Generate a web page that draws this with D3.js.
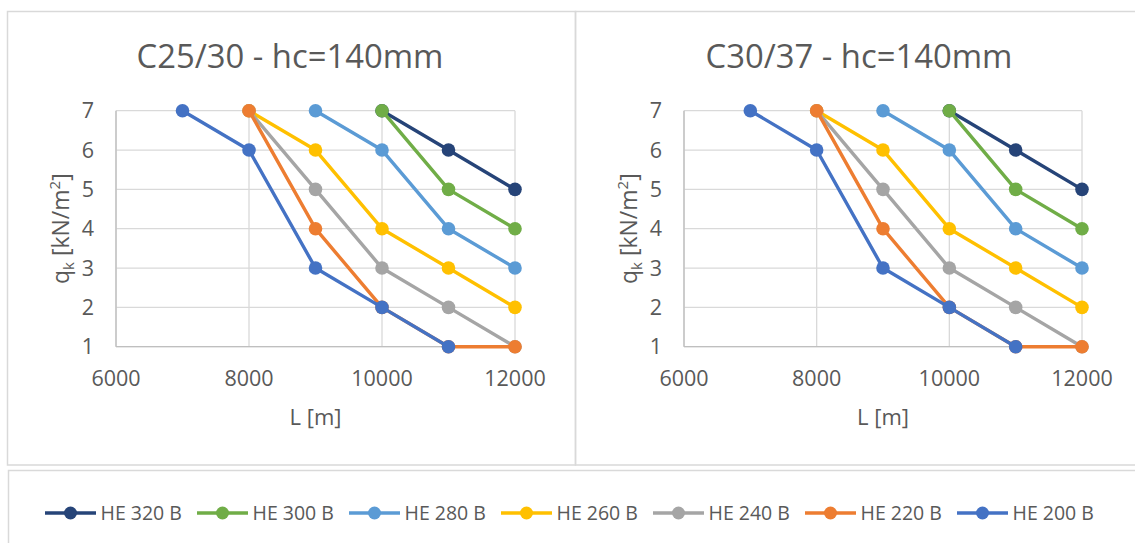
<!DOCTYPE html>
<html>
<head>
<meta charset="utf-8">
<script src="https://cdn.jsdelivr.net/npm/d3@7"></script>
<style>
    body { margin: 0; background: #fff; }
    svg { display: block; font-family: "Open Sans", "Liberation Sans", sans-serif; }
    .grid line { stroke: #d9d9d9; stroke-width: 1.3; }
    .txt { fill: #595959; }
</style>
</head>
<body>
<div class="graficos"></div>
<script>
// datos
const lengths = [7000, 8000, 9000, 10000, 11000, 12000];
const seriesNames = ['HE 320 B', 'HE 300 B', 'HE 280 B', 'HE 260 B', 'HE 240 B', 'HE 220 B', 'HE 200 B'];
const seriesColors = ['#264478', '#70ad47', '#5b9bd5', '#ffc000', '#a5a5a5', '#ed7d31', '#4472c4'];

// qk por longitud (null = sin punto)
const valuesC2530 = [
    [null, null, null, 7, 6, 5],   // HE 320 B
    [null, null, null, 7, 5, 4],   // HE 300 B
    [null, null, 7, 6, 4, 3],      // HE 280 B
    [null, 7, 6, 4, 3, 2],         // HE 260 B
    [null, 7, 5, 3, 2, 1],         // HE 240 B
    [null, 7, 4, 2, 1, 1],         // HE 220 B
    [7, 6, 3, 2, 1, null]          // HE 200 B
];
const valuesC3037 = [
    [null, null, null, 7, 6, 5],
    [null, null, null, 7, 5, 4],
    [null, null, 7, 6, 4, 3],
    [null, 7, 6, 4, 3, 2],
    [null, 7, 5, 3, 2, 1],
    [null, 7, 4, 2, 1, 1],
    [7, 6, 3, 2, 1, null]
];

const xTicks = [6000, 8000, 10000, 12000];
const yTicks = [1, 2, 3, 4, 5, 6, 7];

const ancho = 1135,
    alto = 543;

const svg = d3.select('.graficos').append('svg')
    .attr('width', ancho)
    .attr('height', alto);

svg.append('rect').attr('width', ancho).attr('height', alto).attr('fill', '#fff');

// marcos
const borde = '#d9d9d9';
svg.append('rect').attr('x', 7.5).attr('y', 11.5).attr('width', 568).attr('height', 453.5)
    .attr('fill', 'none').attr('stroke', borde).attr('stroke-width', 1.5);
svg.append('rect').attr('x', 575.5).attr('y', 11.5).attr('width', 600).attr('height', 453.5)
    .attr('fill', 'none').attr('stroke', borde).attr('stroke-width', 1.5);
svg.append('rect').attr('x', 8.5).attr('y', 470.5).attr('width', 1200).attr('height', 100)
    .attr('fill', 'none').attr('stroke', borde).attr('stroke-width', 1.5);

graficar(valuesC2530, 'C25/30 - hc=140mm', { left: 116, right: 515, titleX: 290 });
graficar(valuesC3037, 'C30/37 - hc=140mm', { left: 684, right: 1082, titleX: 859 });

function graficar(data, titulo, pos) {
    const top = 110.7, bottom = 346.7;

    const x = d3.scaleLinear().domain([6000, 12000]).range([pos.left, pos.right]);
    const y = d3.scaleLinear().domain([1, 7]).range([bottom, top]);

    const g = svg.append('g');

    // titulo
    g.append('text')
        .attr('class', 'txt')
        .attr('x', pos.titleX)
        .attr('y', 68)
        .attr('text-anchor', 'middle')
        .style('font-size', '32.8px')
        .text(titulo);

    // rejilla
    const grid = g.append('g').attr('class', 'grid');
    grid.selectAll('.h').data(yTicks).enter().append('line')
        .attr('x1', pos.left).attr('x2', pos.right)
        .attr('y1', d => y(d)).attr('y2', d => y(d));
    grid.selectAll('.v').data(xTicks).enter().append('line')
        .attr('x1', d => x(d)).attr('x2', d => x(d))
        .attr('y1', top).attr('y2', bottom);

    // ejes
    g.append('line').attr('x1', pos.left).attr('x2', pos.right).attr('y1', bottom).attr('y2', bottom)
        .attr('stroke', '#bfbfbf').attr('stroke-width', 1.3);
    g.append('line').attr('x1', pos.left).attr('x2', pos.left).attr('y1', top).attr('y2', bottom)
        .attr('stroke', '#bfbfbf').attr('stroke-width', 1.3);

    // etiquetas
    g.selectAll('.ty').data(yTicks).enter().append('text')
        .attr('class', 'txt')
        .attr('x', pos.left - 22)
        .attr('y', d => y(d))
        .attr('dy', '0.36em')
        .attr('text-anchor', 'end')
        .style('font-size', '21.5px')
        .text(d => d);

    g.selectAll('.tx').data(xTicks).enter().append('text')
        .attr('class', 'txt')
        .attr('x', d => x(d))
        .attr('y', 385.5)
        .attr('text-anchor', 'middle')
        .style('font-size', '21.5px')
        .text(d => d);

    // titulos de ejes
    g.append('text')
        .attr('class', 'txt')
        .attr('x', (pos.left + pos.right) / 2)
        .attr('y', 425)
        .attr('text-anchor', 'middle')
        .style('font-size', '22px')
        .text('L [m]');

    const yt = g.append('text')
        .attr('class', 'txt')
        .attr('transform', 'translate(' + (pos.left - 47) + ',' + ((top + bottom) / 2) + ') rotate(-90)')
        .attr('text-anchor', 'middle')
        .style('font-size', '23px');
    yt.append('tspan').text('q');
    yt.append('tspan').attr('dy', 5).style('font-size', '15px').text('k');
    yt.append('tspan').attr('dy', -5).text(' [kN/m');
    yt.append('tspan').attr('dy', -9).style('font-size', '15px').text('2');
    yt.append('tspan').attr('dy', 9).text(']');

    // series (la primera debajo)
    const line = d3.line()
        .defined(d => d.q !== null)
        .x(d => x(d.L))
        .y(d => y(d.q));

    data.forEach((fila, i) => {
        const puntos = fila.map((q, j) => ({ L: lengths[j], q: q }));
        const s = g.append('g');
        s.append('path')
            .datum(puntos)
            .attr('fill', 'none')
            .attr('stroke', seriesColors[i])
            .attr('stroke-width', 3.4)
            .attr('stroke-linejoin', 'round')
            .attr('d', line);
        s.selectAll('circle')
            .data(puntos.filter(d => d.q !== null))
            .enter().append('circle')
            .attr('cx', d => x(d.L))
            .attr('cy', d => y(d.q))
            .attr('r', 6.8)
            .attr('fill', seriesColors[i]);
    });
}

// leyenda
const leyenda = svg.append('g')
    .selectAll('g')
    .data(seriesNames)
    .enter().append('g')
    .attr('transform', (d, i) => 'translate(' + (45 + i * 152) + ',513)');

leyenda.append('line')
    .attr('x1', 0).attr('x2', 51)
    .attr('stroke', (d, i) => seriesColors[i])
    .attr('stroke-width', 3.4);
leyenda.append('circle')
    .attr('cx', 25.5)
    .attr('r', 6.5)
    .attr('fill', (d, i) => seriesColors[i]);
leyenda.append('text')
    .attr('class', 'txt')
    .attr('x', 55.5)
    .attr('dy', '0.36em')
    .style('font-size', '19.5px')
    .text(d => d);
</script>
</body>
</html>
